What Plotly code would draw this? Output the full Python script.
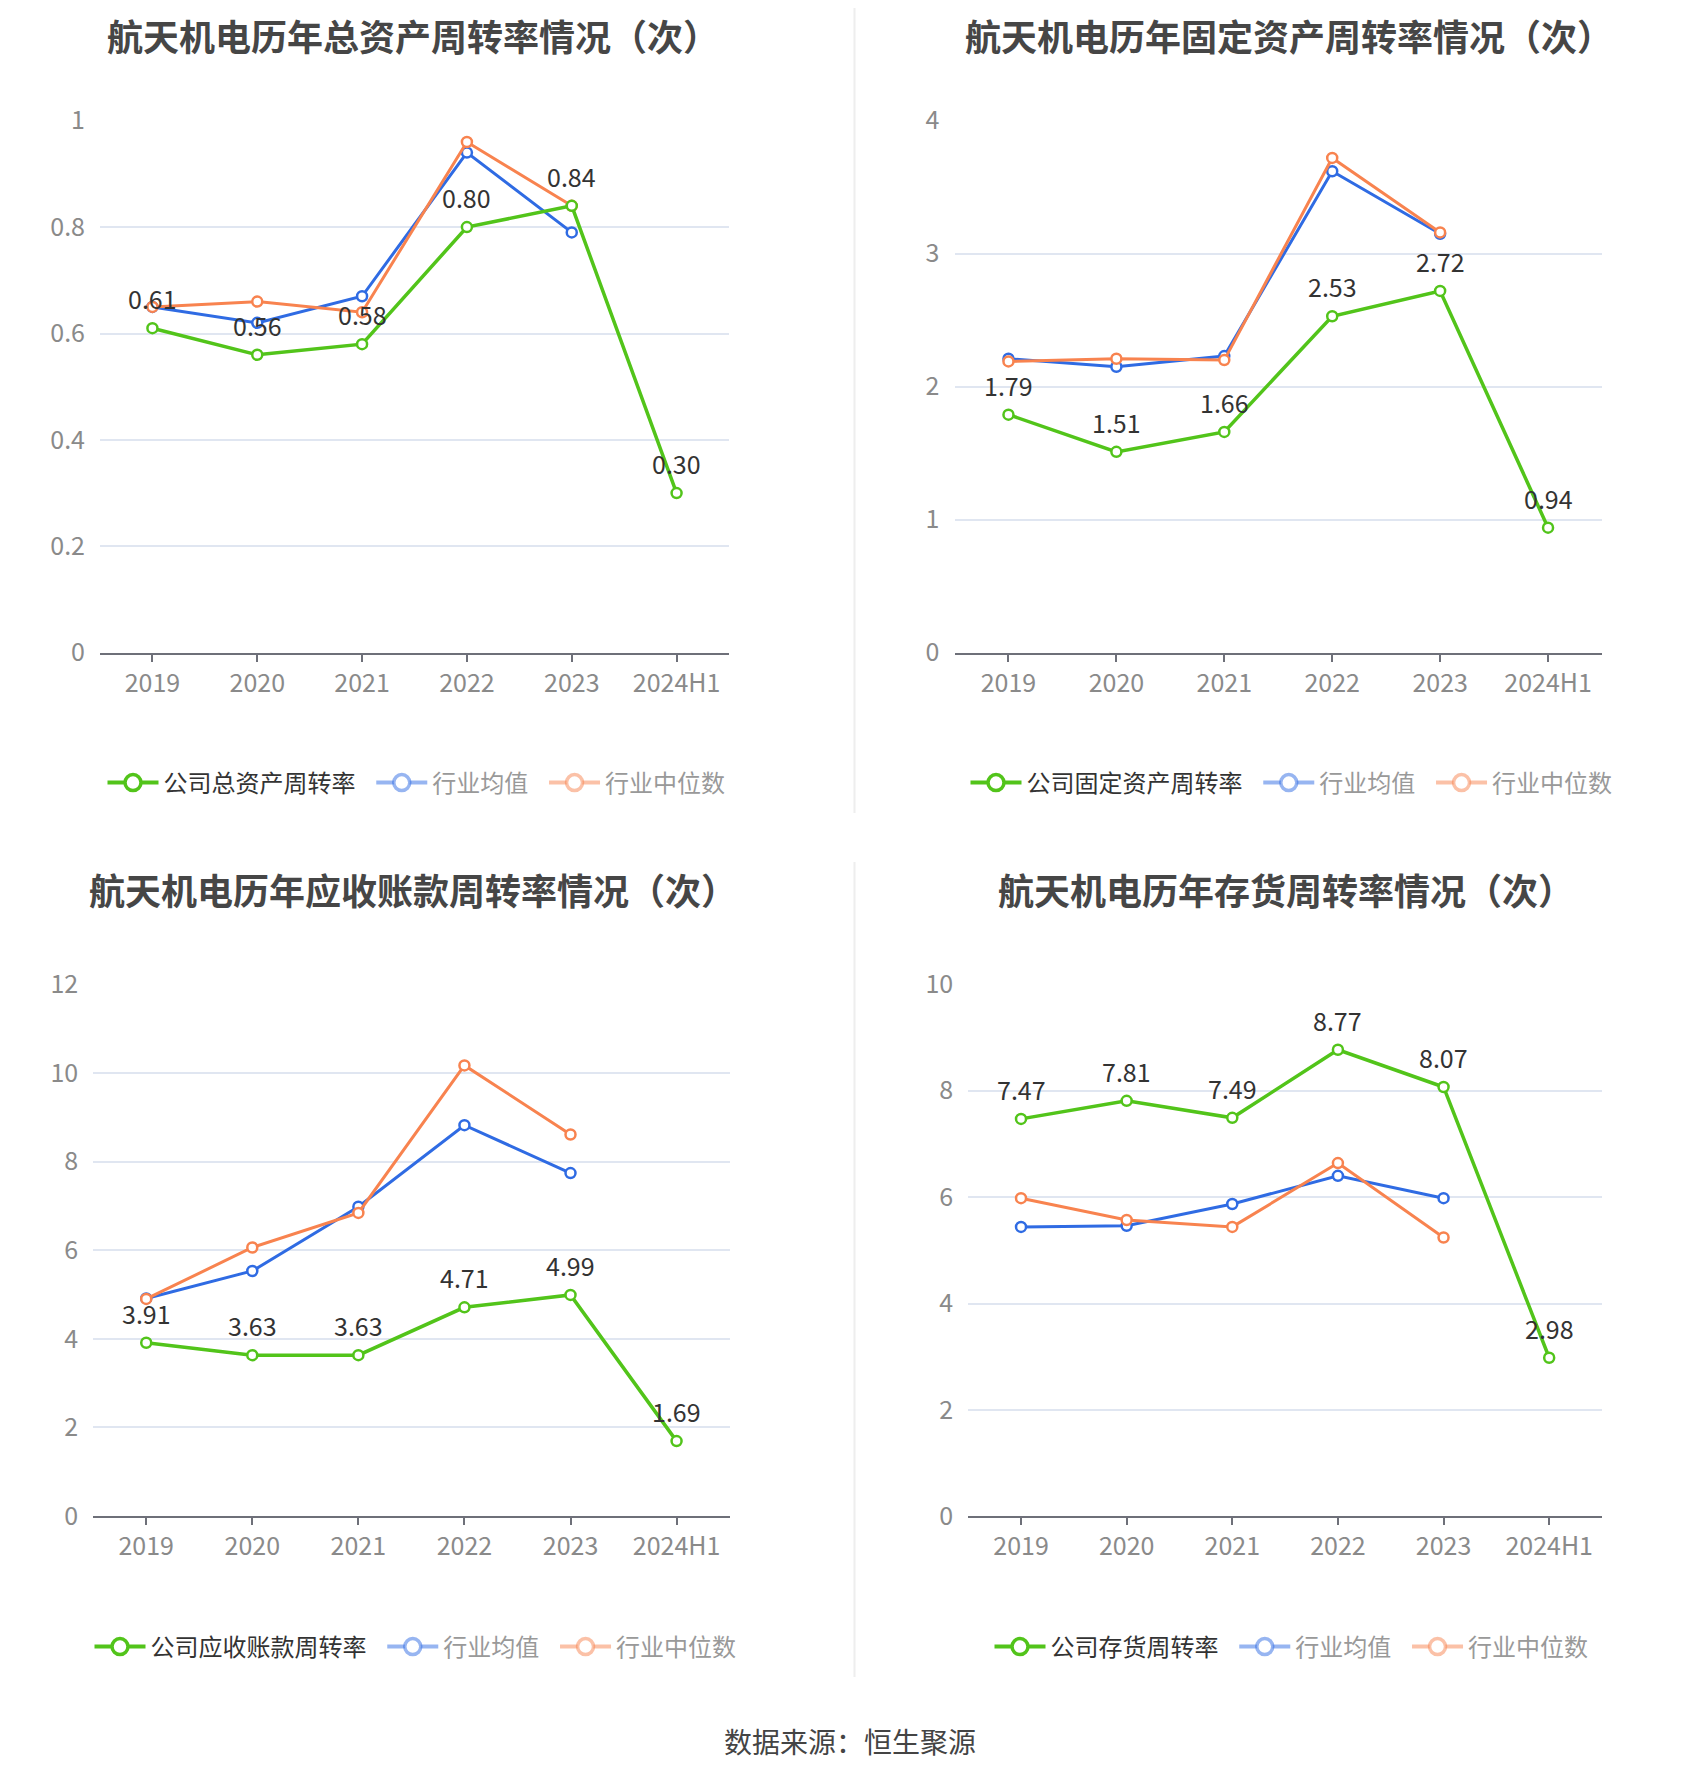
import plotly.graph_objects as go

categories = ["2019", "2020", "2021", "2022", "2023", "2024H1"]

# Chart 1: 总资产周转率
total_company = [0.61, 0.56, 0.58, 0.80, 0.84, 0.30]
total_avg = [0.65, 0.62, 0.67, 0.94, 0.79, None]
total_median = [0.65, 0.66, 0.64, 0.96, 0.84, None]

# Chart 2: 固定资产周转率
fixed_company = [1.79, 1.51, 1.66, 2.53, 2.72, 0.94]
fixed_avg = [2.21, 2.15, 2.23, 3.62, 3.15, None]
fixed_median = [2.19, 2.21, 2.20, 3.72, 3.16, None]

# Chart 3: 应收账款周转率
recv_company = [3.91, 3.63, 3.63, 4.71, 4.99, 1.69]
recv_avg = [4.91, 5.53, 6.98, 8.82, 7.74, None]
recv_median = [4.90, 6.06, 6.84, 10.17, 8.61, None]

# Chart 4: 存货周转率
inv_company = [7.47, 7.81, 7.49, 8.77, 8.07, 2.98]
inv_avg = [5.44, 5.46, 5.87, 6.40, 5.98, None]
inv_median = [5.98, 5.57, 5.44, 6.64, 5.24, None]

titles = ["航天机电历年总资产周转率情况（次）", "航天机电历年固定资产周转率情况（次）",
          "航天机电历年应收账款周转率情况（次）", "航天机电历年存货周转率情况（次）"]
company_names = ["公司总资产周转率", "公司固定资产周转率", "公司应收账款周转率", "公司存货周转率"]
avg_name = "行业均值"
median_name = "行业中位数"
source_text = "数据来源：恒生聚源"

W, H = 1700, 1782
OFF = 8  # page body offset
FONT = "Noto Sans CJK SC, Noto Sans, sans-serif"
GREEN = "#52C41A"
BLUE = "#2F6BE3"
ORANGE = "#F8834F"
GREEN_L = "rgba(82,196,26,1)"
BLUE_L = "rgba(47,107,227,0.5)"
ORANGE_L = "rgba(248,131,79,0.5)"

def px_x(v):
    return (v - OFF) / W

def px_y(v):
    return 1 - (v - OFF) / H

panels = [
    dict(data=(total_company, total_avg, total_median), x0=100, x1=729, ytop=120.7, ybot=652.7,
         yr=[0, 1], dtick=0.2, title_x=413, title_y=8, title_anchor="top", leg_x=422, leg_y=783),
    dict(data=(fixed_company, fixed_avg, fixed_median), x0=954.5, x1=1602, ytop=120.7, ybot=652.7,
         yr=[0, 4], dtick=1, title_x=1289, title_y=8, title_anchor="top", leg_x=1297, leg_y=783),
    dict(data=(recv_company, recv_avg, recv_median), x0=93.2, x1=729.6, ytop=984.3, ybot=1516,
         yr=[0, 12], dtick=2, title_x=413, title_y=889, title_anchor="middle", leg_x=421, leg_y=1647),
    dict(data=(inv_company, inv_avg, inv_median), x0=968.2, x1=1602, ytop=984.3, ybot=1516.3,
         yr=[0, 10], dtick=2, title_x=1286, title_y=889, title_anchor="middle", leg_x=1297, leg_y=1647),
]

fig = go.Figure()
annotations = []
layout = {}
NB = "\u00a0\u00a0"

for i, p in enumerate(panels):
    n = "" if i == 0 else str(i + 1)
    xa, ya = "x" + n, "y" + n
    leg = "legend" + n
    comp, avg, med = p["data"]
    for vals, col in [(avg, BLUE), (med, ORANGE), (comp, GREEN)]:
        fig.add_trace(go.Scatter(
            x=categories, y=vals, xaxis=xa, yaxis=ya, mode="lines+markers",
            line=dict(color=col, width=3.5 if col == GREEN else 3),
            marker=dict(symbol="circle", size=10, color="white", line=dict(color=col, width=2.5)),
            showlegend=False, hoverinfo="skip", cliponaxis=False))
    for name, col, txtcol in [(company_names[i], GREEN_L, "#333333"),
                              (avg_name, BLUE_L, "#999999"),
                              (median_name, ORANGE_L, "#999999")]:
        fig.add_trace(go.Scatter(
            x=[None], y=[None], xaxis=xa, yaxis=ya, mode="lines+markers",
            name=f"<span style='color:{txtcol}'>{name}</span>{NB}",
            line=dict(color=col, width=4),
            marker=dict(symbol="circle", size=18, color="white", line=dict(color=col, width=3.5)),
            legend=leg, showlegend=True))
    for j, v in enumerate(comp):
        annotations.append(dict(x=j, y=v, xref=xa, yref=ya, text=f"{v:.2f}", showarrow=False,
                                yshift=30, font=dict(size=25, color="#333333", family=FONT)))
    annotations.append(dict(x=px_x(p["title_x"]), y=px_y(p["title_y"]), xref="paper", yref="paper",
                            text=f"<b>{titles[i]}</b>", showarrow=False, xanchor="center",
                            yanchor=p["title_anchor"], borderpad=0,
                            font=dict(size=36, color="#464646", family=FONT)))
    layout["xaxis" + n] = dict(
        domain=[px_x(p["x0"]), px_x(p["x1"])], anchor=ya, type="category",
        range=[-0.5, 5.5], showgrid=False, showline=True, linecolor="#6E7079", linewidth=2,
        ticks="outside", ticklen=7, tickwidth=1.5, tickcolor="#6E7079", automargin=False,
        tickfont=dict(size=25, color="#8A8A8A", family=FONT), fixedrange=True)
    layout["yaxis" + n] = dict(
        domain=[px_y(p["ybot"]), px_y(p["ytop"])], anchor=xa, range=p["yr"], dtick=p["dtick"],
        showgrid=True, gridcolor="#E0E6F1", gridwidth=1.5, zeroline=False, showline=False,
        ticks="", ticklabelstandoff=14, automargin=False,
        tickfont=dict(size=25, color="#8A8A8A", family=FONT), fixedrange=True)
    layout[leg] = dict(orientation="h", x=px_x(p["leg_x"]), y=px_y(p["leg_y"]),
                       xanchor="center", yanchor="middle", bgcolor="rgba(0,0,0,0)",
                       font=dict(size=24, color="#333333", family=FONT),
                       itemwidth=51, itemsizing="trace", tracegroupgap=0)

annotations.append(dict(x=px_x(850), y=px_y(1741), xref="paper", yref="paper", text=source_text,
                        showarrow=False, xanchor="center", yanchor="middle",
                        font=dict(size=28, color="#444444", family=FONT)))

shapes = [
    dict(type="line", xref="paper", yref="paper", x0=px_x(854.5), x1=px_x(854.5), y0=px_y(8), y1=px_y(813),
         line=dict(color="#EEEEEE", width=2)),
    dict(type="line", xref="paper", yref="paper", x0=px_x(854.5), x1=px_x(854.5), y0=px_y(862), y1=px_y(1677),
         line=dict(color="#EEEEEE", width=2)),
]

fig.update_layout(
    width=W, height=H, margin=dict(l=0, r=0, t=0, b=0, pad=0, autoexpand=False),
    paper_bgcolor="white", plot_bgcolor="white",
    font=dict(family=FONT), annotations=annotations, shapes=shapes, **layout)

fig.write_html("out.html")
